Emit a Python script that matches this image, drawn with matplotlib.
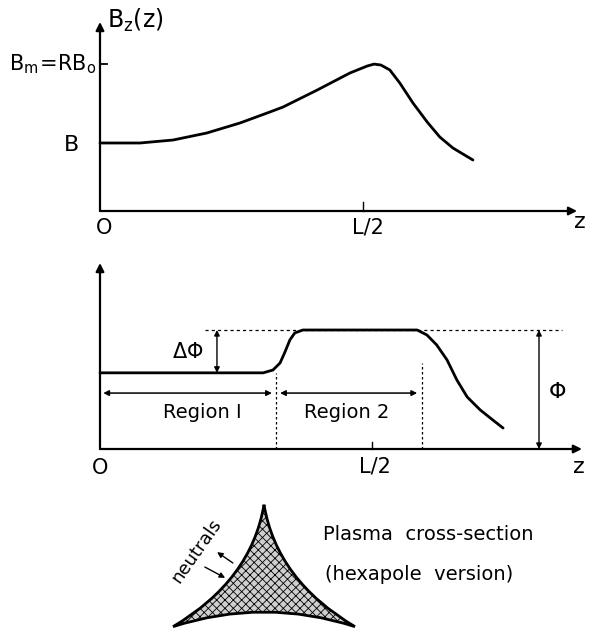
import matplotlib
matplotlib.use("Agg")
import matplotlib.pyplot as plt
from matplotlib.path import Path
from matplotlib.patches import PathPatch

plt.rcParams['font.family'] = ['DejaVu Sans']
plt.rcParams['mathtext.default'] = 'regular'
plt.rcParams['hatch.linewidth'] = 0.6

# Axial magnetic field B_z(z): z in units of L, field in units of the midplane field B
bz_z = [0.000, 0.076, 0.139, 0.203, 0.266, 0.323, 0.348, 0.413, 0.475, 0.508,
        0.521, 0.534, 0.551, 0.570, 0.595, 0.622, 0.646, 0.671, 0.709]
bz_val = [1.000, 1.000, 1.044, 1.147, 1.294, 1.456, 1.529, 1.779, 2.029, 2.132,
          2.160, 2.147, 2.074, 1.882, 1.588, 1.309, 1.088, 0.926, 0.750]
mirror_ratio = 2.16          # B_m = R * B_0

# Electrostatic potential along z, in units of the total potential Phi
phi_z = [0.000, 0.300, 0.318, 0.331, 0.340, 0.349, 0.358, 0.373, 0.583, 0.601,
         0.619, 0.638, 0.656, 0.675, 0.699, 0.722, 0.741]
phi_val = [0.64, 0.64, 0.664, 0.723, 0.815, 0.916, 0.975, 1.00, 1.00, 0.958,
           0.874, 0.748, 0.580, 0.437, 0.328, 0.244, 0.176]
phi_plateau = 1.00
phi_region1 = 0.64
region_bounds = [0.0, 0.324, 0.592]

# Hexapole cross-section: three cusps and the inward bulge of each side
cusp_x = [0.0, -2.598, 2.598]
cusp_y = [3.0, -1.5, -1.5]
side_bulge = 0.14

W, H = 589, 631
fig = plt.figure(figsize=(W / 100, H / 100), dpi=100)
fig.patch.set_facecolor('white')


def fpos(x, y):
    return x / W, 1 - y / H


def make_axes(px_left, px_right, px_bottom, px_top, x_per_px, y_per_px):
    ax = fig.add_axes([px_left / W, 1 - px_bottom / H,
                       (px_right - px_left) / W, (px_bottom - px_top) / H])
    ax.set_xlim(0, (px_right - px_left) * x_per_px)
    ax.set_ylim(0, (px_bottom - px_top) * y_per_px)
    ax.axis('off')
    return ax


def arrow(ax, start, end, lw=1.6, ms=12, style='-|>'):
    ax.annotate('', xy=end, xytext=start,
                arrowprops=dict(arrowstyle=style, lw=lw, color='k',
                                mutation_scale=ms, shrinkA=0, shrinkB=0),
                annotation_clip=False)


def label(x, y, s, size=15, **kw):
    fx, fy = fpos(x, y)
    fig.text(fx, fy, s, ha=kw.pop('ha', 'center'), va=kw.pop('va', 'center'),
             fontsize=size, color='k', **kw)


# ---------------- top panel: B_z(z) ----------------
ax1 = make_axes(100, 589, 211, 5, 1 / 526, 1 / 68)
arrow(ax1, (0, 0), (0, 2.78))
arrow(ax1, (0, 0), (0.907, 0))
ax1.plot(bz_z, bz_val, color='k', lw=2.0, solid_capstyle='round',
         solid_joinstyle='round', clip_on=False)
ax1.plot([0, 0.014], [mirror_ratio, mirror_ratio], color='k', lw=1.3, clip_on=False)
ax1.plot([0.5, 0.5], [0, 0.13], color='k', lw=1.0, clip_on=False)

label(107, 20, r'$B_z(z)$', size=17, ha='left')
label(96, 64, r'$B_m\!=\!RB_o$', size=15, ha='right')
label(72, 145, 'B', size=16)
label(104, 228, 'O', size=15)
label(368, 228, 'L/2', size=15)
label(580, 222, 'z', size=16)

# ---------------- bottom panel: potential ----------------
ax2 = make_axes(100, 589, 449, 255, 1 / 544, 1 / 119)
arrow(ax2, (0, 0), (0, 1.563))
arrow(ax2, (0, 0), (0.886, 0))
ax2.plot(phi_z, phi_val, color='k', lw=2.0, solid_capstyle='round',
         solid_joinstyle='round', clip_on=False)

# reference level of the plateau and region boundaries
ax2.plot([0.193, 0.849], [phi_plateau, phi_plateau], color='k', lw=0.9,
         ls=(0, (2.5, 2.5)), clip_on=False)
ax2.plot([region_bounds[1]] * 2, [0, phi_region1], color='k', lw=0.9,
         ls=(0, (2, 2)), clip_on=False)
ax2.plot([region_bounds[2]] * 2, [0, 0.72], color='k', lw=0.9,
         ls=(0, (2, 2)), clip_on=False)
ax2.plot([0.5, 0.5], [0, 0.06], color='k', lw=1.0, clip_on=False)

# potential differences
arrow(ax2, (0.215, phi_region1), (0.215, phi_plateau), lw=1.0, ms=8, style='<|-|>')
arrow(ax2, (0.807, 0.0), (0.807, phi_plateau), lw=1.0, ms=8, style='<|-|>')

# region extents
arrow(ax2, (region_bounds[0] + 0.006, 0.47), (region_bounds[1] - 0.008, 0.47),
      lw=1.1, ms=8, style='<|-|>')
arrow(ax2, (region_bounds[1] + 0.007, 0.47), (region_bounds[2] - 0.009, 0.47),
      lw=1.1, ms=8, style='<|-|>')

label(188, 352, r'$\Delta\Phi$', size=15)
label(557, 392, r'$\Phi$', size=16)
label(202, 413, 'Region I', size=14)
label(347, 412, 'Region 2', size=14)
label(100, 468, 'O', size=15)
label(375, 466, 'L/2', size=15)
label(579, 467, 'z', size=16)

# ---------------- plasma cross-section ----------------
sx, sy = 1 / 35, 1 / 27.1
ax3 = fig.add_axes([159 / W, 1 - 631 / H, 210 / W, 136 / H])
ax3.set_xlim(-105 * sx, 105 * sx)
ax3.set_ylim(-45 * sy, 91 * sy)
ax3.axis('off')

verts, codes = [], []
for i in range(3):
    a = (cusp_x[i], cusp_y[i])
    b = (cusp_x[(i + 1) % 3], cusp_y[(i + 1) % 3])
    o = (cusp_x[(i + 2) % 3], cusp_y[(i + 2) % 3])
    ctrl = (-o[0] * side_bulge, -o[1] * side_bulge)
    if i == 0:
        verts.append(a)
        codes.append(Path.MOVETO)
    verts += [ctrl, b]
    codes += [Path.CURVE3, Path.CURVE3]
verts.append(verts[0])
codes.append(Path.CLOSEPOLY)
shape = Path(verts, codes)
ax3.add_patch(PathPatch(shape, facecolor='#cfcfcf', edgecolor='k', hatch='xxxx',
                        lw=0))
ax3.add_patch(PathPatch(shape, facecolor='none', edgecolor='k', lw=2.0))

# neutral flux in and out across the boundary
arrow(ax3, (-1.69, 0.70), (-1.11, 0.30), lw=1.0, ms=8)
arrow(ax3, (-0.89, 0.85), (-1.34, 1.25), lw=1.0, ms=8)

label(197, 551, 'neutrals', size=13, rotation=55)
label(323, 535, 'Plasma  cross-section', size=14, ha='left')
label(325, 575, '(hexapole  version)', size=14, ha='left')

fig.savefig('out.png', dpi=100, facecolor='white')
